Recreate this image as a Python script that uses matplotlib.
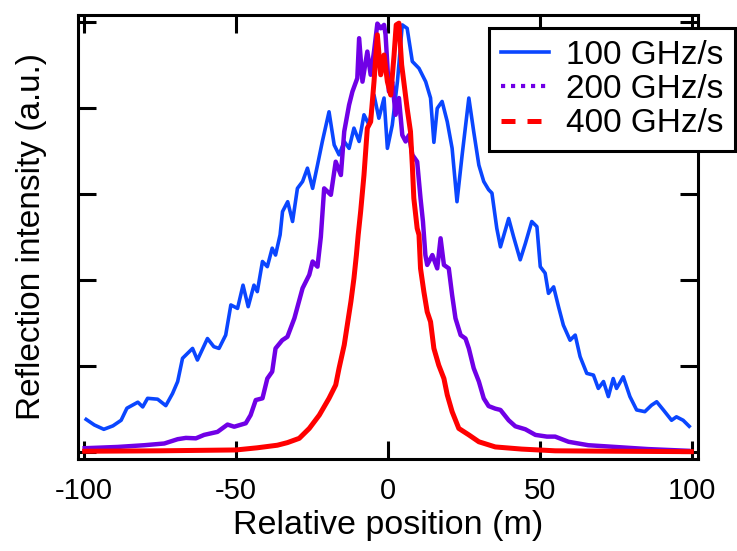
import matplotlib
matplotlib.use("Agg")
import matplotlib.pyplot as plt
from matplotlib.lines import Line2D

plt.rcParams["font.family"] = ["Liberation Sans", "DejaVu Sans"]
plt.rcParams["axes.unicode_minus"] = False

# relative position (m) and reflection intensity (a.u., peak = 100)
x_100 = [-99.3, -96.6, -93.5, -90.5, -87.8, -85.9, -82.3, -80.7, -79.1, -75.8,
         -73.1, -70.9, -69.2, -67.6, -64.3, -62.7, -59.4, -57.3, -55.6, -53.4,
         -51.7, -49.5, -47.7, -46.0, -44.1, -43.0, -41.3, -39.7, -38.1, -37.0,
         -35.5, -34.7, -33.0, -31.4, -29.8, -28.1, -26.5, -24.8, -23.2, -21.6,
         -19.4, -17.7, -16.1, -14.4, -12.8, -11.2, -9.5, -7.9, -6.2, -4.6,
         -3.0, -1.3, -0.2, 1.4, 3.1, 4.7, 6.3, 8.0, 10.2, 12.4,
         14.0, 15.1, 16.2, 17.8, 19.5, 21.1, 22.7, 24.4, 26.6, 28.2,
         29.9, 31.5, 33.1, 34.2, 35.8, 37.0, 39.7, 41.3, 43.5, 45.2,
         47.3, 49.0, 50.1, 51.7, 52.8, 54.5, 56.1, 57.7, 59.9, 61.6,
         63.2, 65.4, 67.6, 69.2, 70.9, 72.5, 74.1, 75.2, 77.4, 79.6,
         81.8, 84.5, 86.7, 88.4, 90.6, 93.3, 94.9, 97.1, 99.1]
y_100 = [7.6, 6.3, 5.3, 6.1, 7.4, 10.2, 11.6, 10.5, 12.5, 12.3,
         10.8, 13.6, 16.4, 21.8, 24.1, 21.4, 26.4, 24.5, 24.1, 27.2,
         34.2, 33.4, 38.8, 33.8, 38.8, 37.3, 44.3, 43.1, 47.4, 45.8,
         50.5, 55.9, 58.2, 53.6, 61.3, 62.9, 66.0, 61.3, 66.7, 72.2,
         79.1, 71.4, 69.1, 72.2, 70.6, 75.3, 72.2, 78.4, 76.0, 83.0,
         77.6, 82.3, 70.6, 76.0, 86.1, 99.3, 98.5, 90.8, 89.2, 86.1,
         82.3, 72.0, 79.9, 81.5, 76.8, 70.6, 58.2, 69.1, 82.3, 74.5,
         66.7, 62.9, 61.0, 60.2, 52.0, 47.7, 54.3, 50.1, 44.7, 48.5,
         53.6, 52.4, 43.1, 41.6, 36.9, 38.4, 33.8, 29.5, 26.0, 27.2,
         22.2, 18.3, 17.9, 14.8, 16.4, 12.9, 17.1, 14.8, 17.5, 12.9,
         9.8, 9.4, 10.9, 11.7, 9.8, 7.4, 8.2, 7.4, 6.0]

x_200 = [-99.8, -88.9, -80.2, -73.6, -69.2, -66.5, -63.2, -60.5, -56.1, -52.8,
         -50.6, -46.8, -45.2, -43.5, -41.3, -39.7, -38.1, -37.0, -34.8, -33.1,
         -30.8, -28.1, -25.9, -24.8, -23.2, -22.1, -21.0, -18.8, -17.2, -15.5,
         -14.4, -12.8, -11.7, -10.1, -9.5, -8.4, -6.8, -5.7, -4.6, -3.5,
         -2.4, -1.3, -0.8, 0.3, 1.4, 2.5, 3.6, 4.7, 5.8, 6.9,
         8.0, 9.6, 10.7, 11.5, 12.3, 12.9, 14.6, 16.2, 17.3, 18.4,
         20.0, 21.1, 22.2, 23.9, 25.5, 26.6, 28.2, 29.9, 31.5, 33.1,
         35.3, 37.0, 39.7, 41.9, 45.2, 48.5, 52.3, 55.0, 59.4, 65.9,
         74.7, 85.6, 98.8]
y_200 = [0.9, 1.2, 1.6, 2.0, 3.0, 3.3, 3.2, 4.0, 4.7, 6.4,
         5.9, 6.7, 8.6, 12.1, 12.5, 17.1, 18.7, 24.1, 26.0, 26.8,
         31.1, 38.1, 41.2, 44.3, 43.1, 50.0, 61.3, 59.8, 67.5, 64.4,
         74.5, 80.7, 83.8, 86.9, 96.2, 86.1, 93.1, 87.7, 93.1, 99.6,
         98.5, 99.3, 97.0, 83.8, 86.1, 78.4, 82.3, 73.7, 72.2, 73.7,
         69.1, 67.5, 59.0, 53.6, 45.8, 43.5, 45.8, 42.7, 49.7, 43.5,
         42.7, 36.5, 31.1, 27.2, 26.4, 24.1, 19.5, 16.4, 12.5, 10.7,
         10.1, 9.8, 7.4, 6.0, 5.3, 4.0, 3.6, 3.6, 2.4, 1.6,
         1.2, 0.7, 0.3]

x_400 = [-99.8, -75.0, -50.0, -43.0, -36.4, -33.1, -29.2, -25.9, -22.6, -19.4,
         -17.2, -16.1, -14.4, -13.4, -12.2, -11.2, -10.4, -9.8, -9.0, -7.9,
         -6.8, -5.7, -4.6, -3.5, -2.4, -1.3, -0.2, 0.9, 2.0, 2.7,
         3.6, 4.5, 5.2, 6.3, 7.4, 8.0, 8.5, 9.6, 10.2, 10.7,
         11.8, 12.9, 14.0, 15.1, 16.7, 18.4, 19.5, 21.1, 23.3, 26.6,
         29.9, 35.3, 44.0, 55.0, 75.0, 99.8]
y_400 = [0.2, 0.3, 0.5, 1.0, 1.6, 2.2, 3.2, 5.5, 8.6, 12.5,
         15.6, 19.5, 24.9, 29.5, 35.0, 40.4, 45.8, 50.5, 55.9, 64.4,
         75.3, 76.8, 86.1, 97.0, 87.7, 92.3, 86.1, 83.0, 92.3, 99.3,
         99.7, 90.0, 86.1, 79.9, 74.5, 66.7, 59.0, 52.0, 50.5, 42.7,
         37.3, 32.6, 30.3, 24.1, 20.2, 17.1, 13.3, 9.4, 5.5, 4.0,
         2.4, 1.2, 0.7, 0.3, 0.2, 0.1]

labels = ["100 GHz/s", "200 GHz/s", "400 GHz/s"]
colors = ["#0a46ff", "#7000e6", "#ff0000"]

fig = plt.figure(figsize=(7.37, 5.51), dpi=100)
ax = fig.add_axes([0.1058, 0.167, 0.8413, 0.8058])

ax.plot(x_100, y_100, color=colors[0], lw=2.6)
ax.plot(x_200, y_200, color=colors[1], lw=3.2)
ax.plot(x_400, y_400, color=colors[2], lw=3.6)

ax.set_xlim(-102, 102)
ax.set_ylim(-1.6, 101.6)
ax.set_xticks([-100, -50, 0, 50, 100])
ax.set_yticks([0, 20, 40, 60, 80, 100])
ax.tick_params(direction="in", length=13, width=2.2, top=True, right=True,
               labelleft=False, labelsize=21, pad=13)
for spine in ax.spines.values():
    spine.set_linewidth(2.2)

ax.set_xlabel("Relative position (m)", fontsize=24.5)
ax.set_ylabel("Reflection intensity (a.u.)", fontsize=24)
ax.xaxis.set_label_coords(0.5, -0.116)
ax.yaxis.set_label_coords(-0.05, 0.5)

handles = [
    Line2D([], [], color=colors[0], lw=2.6),
    Line2D([], [], color=colors[1], lw=3.0, linestyle=(0, (1, 1.4))),
    Line2D([], [], color=colors[2], lw=3.6, linestyle=(0, (2.8, 2.4))),
]
leg = ax.legend(handles, labels, loc="upper right", fontsize=24,
                bbox_to_anchor=(735 / 737, 523 / 551), bbox_transform=fig.transFigure,
                frameon=True, fancybox=False, framealpha=1, edgecolor="black",
                borderpad=0.35, handlelength=1.45, handletextpad=0.5, labelspacing=0.1,
                borderaxespad=0)
leg.get_frame().set_linewidth(2.2)

fig.savefig("out.png", dpi=100, facecolor="white")
